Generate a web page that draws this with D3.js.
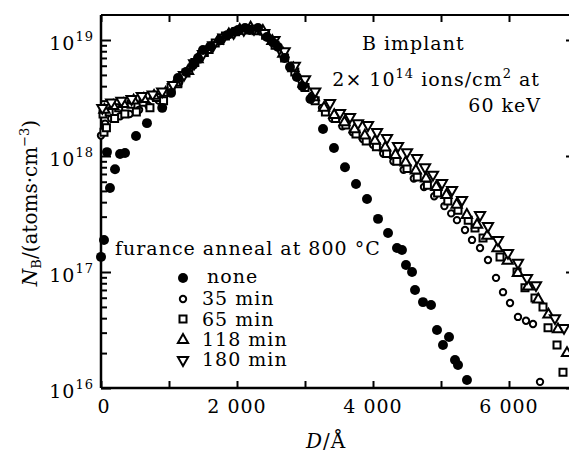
<!DOCTYPE html>
<html>
<head>
<meta charset="utf-8">
<script src="https://cdn.jsdelivr.net/npm/d3@7"></script>
<style>
  body { margin: 0; background: #fff; }
  text { font-family: "DejaVu Serif", "Liberation Serif", serif; fill: #000; letter-spacing: 1px; }
</style>
</head>
<body>
<div id="chart"></div>
<script>
// depth D (Angstrom) , concentration N (atoms/cm^3)
const noneData = [
  [0, 1.35e17], [44, 1.89e17], [88, 1.08e18], [132, 5.3e17], [206, 7.7e17], [280, 1.04e18],
  [353, 1.06e18], [515, 1.49e18], [676, 1.92e18], [900, 2.6e18], [1030, 3.5e18], [1132, 4.7e18],
  [1250, 5.3e18], [1353, 6.1e18], [1426, 7.0e18], [1500, 8.2e18], [1618, 8.8e18], [1750, 1.0e19],
  [1853, 1.1e19], [1960, 1.18e19], [2015, 1.22e19], [2118, 1.27e19], [2191, 1.22e19], [2309, 1.27e19],
  [2441, 1.06e19], [2529, 9.5e18], [2603, 8.7e18], [2700, 7.0e18], [2779, 5.85e18], [2880, 4.8e18],
  [2960, 4.0e18], [3080, 3.1e18], [3265, 1.71e18], [3426, 1.17e18], [3588, 8.0e17], [3750, 5.74e17],
  [3912, 4.26e17], [4074, 2.87e17], [4221, 2.17e17], [4353, 1.61e17], [4426, 1.55e17], [4485, 1.15e17],
  [4574, 1.0e17], [4618, 7.0e16], [4735, 5.5e16], [4853, 5.2e16], [4941, 3.16e16], [5029, 2.35e16],
  [5118, 2.75e16], [5206, 1.74e16], [5250, 1.58e16], [5382, 1.17e16]
];

const min35Data = [
  [0, 1.5e18], [60, 1.9e18], [150, 2.1e18], [280, 2.2e18], [420, 2.3e18], [560, 2.5e18],
  [700, 2.7e18], [850, 3.0e18], [1000, 3.5e18], [1150, 4.3e18], [1300, 5.5e18], [1450, 6.8e18],
  [1600, 8.4e18], [1750, 9.8e18], [1900, 1.12e19], [2050, 1.2e19], [2200, 1.24e19], [2350, 1.18e19],
  [2500, 1.0e19], [2650, 8.0e18], [2800, 6.0e18], [2950, 4.4e18], [3100, 3.3e18], [3250, 2.6e18],
  [3400, 2.1e18], [3550, 1.8e18], [3700, 1.6e18], [3850, 1.4e18], [4000, 1.25e18], [4150, 1.05e18],
  [4300, 9.0e17], [4450, 7.6e17], [4600, 6.4e17], [4750, 5.4e17], [4900, 4.5e17], [5050, 3.7e17],
  [5150, 3.2e17], [5235, 2.8e17], [5353, 2.3e17], [5456, 1.89e17], [5574, 1.61e17], [5691, 1.27e17],
  [5809, 8.9e16], [5912, 6.7e16], [6015, 5.4e16], [6132, 4.1e16], [6250, 3.8e16], [6353, 3.56e16],
  [6456, 1.13e16]
];

const min65Data = [
  [30, 2.3e18], [44, 1.6e18], [80, 1.75e18], [120, 2.4e18], [200, 2.1e18], [260, 2.6e18],
  [350, 2.3e18], [440, 2.8e18], [520, 2.4e18], [620, 2.9e18], [720, 2.6e18], [820, 3.2e18],
  [920, 3.0e18], [1030, 3.9e18], [1130, 4.2e18], [1250, 5.2e18], [1380, 6.4e18], [1520, 7.8e18],
  [1680, 9.4e18], [1830, 1.08e19], [1980, 1.18e19], [2130, 1.22e19], [2280, 1.2e19], [2420, 1.1e19],
  [2560, 9.0e18], [2700, 7.0e18], [2850, 5.3e18], [3000, 3.9e18], [3150, 3.0e18], [3300, 2.4e18],
  [3450, 2.1e18], [3600, 1.85e18], [3750, 1.55e18], [3900, 1.35e18], [4050, 1.2e18], [4200, 1.05e18],
  [4350, 9.0e17], [4500, 7.8e17], [4650, 6.6e17], [4800, 5.6e17], [4950, 4.8e17], [5100, 4.1e17],
  [5250, 3.4e17], [5400, 2.8e17], [5500, 2.4e17], [5618, 1.96e17], [5868, 1.35e17], [6118, 1.0e17],
  [6235, 7.3e16], [6382, 5.97e16], [6500, 5.0e16], [6574, 3.3e16], [6706, 2.35e16], [6794, 1.37e16]
];

const min118Data = [
  [50, 2.5e18], [180, 2.7e18], [330, 2.8e18], [480, 3.0e18], [630, 3.1e18], [780, 3.3e18],
  [950, 3.5e18], [1100, 4.3e18], [1280, 5.4e18], [1420, 6.8e18], [1560, 8.2e18], [1720, 9.8e18],
  [1880, 1.12e19], [2040, 1.22e19], [2200, 1.28e19], [2380, 1.2e19], [2520, 9.8e18], [2680, 7.6e18],
  [2830, 5.7e18], [2980, 4.2e18], [3130, 3.2e18], [3280, 2.6e18], [3430, 2.25e18], [3580, 1.95e18],
  [3730, 1.7e18], [3880, 1.5e18], [4030, 1.35e18], [4180, 1.18e18], [4330, 1.02e18], [4480, 8.8e17],
  [4630, 7.5e17], [4780, 6.4e17], [4930, 5.4e17], [5080, 4.6e17], [5230, 3.8e17], [5380, 3.1e17],
  [5530, 2.55e17], [5680, 2.05e17], [5830, 1.6e17], [5980, 1.25e17], [6130, 9.8e16], [6280, 7.5e16],
  [6430, 5.8e16], [6580, 4.3e16], [6720, 3.2e16], [6853, 2.0e16]
];

const min180Data = [
  [20, 2.6e18], [150, 2.9e18], [300, 3.0e18], [450, 3.1e18], [600, 3.3e18], [760, 3.4e18],
  [900, 3.6e18], [1060, 4.1e18], [1220, 5.0e18], [1370, 6.3e18], [1500, 7.6e18], [1650, 9.0e18],
  [1800, 1.05e19], [1950, 1.15e19], [2100, 1.22e19], [2250, 1.25e19], [2400, 1.15e19], [2550, 1.0e19],
  [2700, 8.0e18], [2850, 6.0e18], [3000, 4.6e18], [3150, 3.6e18], [3368, 2.86e18], [3515, 2.35e18],
  [3662, 2.17e18], [3779, 1.92e18], [3926, 1.85e18], [4059, 1.61e18], [4206, 1.43e18], [4368, 1.22e18],
  [4500, 1.08e18], [4647, 9.6e17], [4765, 8.0e17], [4882, 6.9e17], [5015, 5.85e17], [5162, 5.1e17],
  [5309, 4.18e17], [5574, 3.1e17], [5691, 2.49e17], [5838, 1.89e17], [5985, 1.46e17], [6132, 1.2e17],
  [6265, 8.9e16], [6397, 7.7e16], [6676, 4.0e16], [6809, 3.3e16]
];

const seriesLabels = ["none", "35 min", "65 min", "118 min", "180 min"];
const xTicks = [0, 2000, 4000, 6000];
const xTickLabels = ["0", "2 000", "4 000", "6 000"];
const xMinorTicks = [1000, 3000, 5000];
const yDecades = [1e16, 1e17, 1e18, 1e19];
const yExponents = ["16", "17", "18", "19"];

const width = 569;
const height = 455;

const svg = d3.select("#chart")
  .append("svg")
  .attr("width", width)
  .attr("height", height);

const mLeft = 101, mRight = 577, mTop = 15, mBottom = 388;

const x = d3.scaleLinear().domain([0, 7000]).range([mLeft, mRight]);
const y = d3.scaleLog().domain([1e16, Math.pow(10, 19.2155)]).range([mBottom, mTop]);

// minor log ticks 2..9 in each decade
const yMinor = [];
yDecades.slice(0, 3).forEach(d => {
  for (let m = 2; m <= 9; m++) yMinor.push(m * d);
});

// frame
svg.append("line").attr("x1", mLeft).attr("x2", mLeft).attr("y1", mTop).attr("y2", mBottom)
  .attr("stroke", "black").attr("stroke-width", 2.5);
svg.append("line").attr("x1", mLeft).attr("x2", mRight).attr("y1", mBottom).attr("y2", mBottom)
  .attr("stroke", "black").attr("stroke-width", 2.5);
svg.append("line").attr("x1", mLeft).attr("x2", mRight).attr("y1", mTop).attr("y2", mTop)
  .attr("stroke", "black").attr("stroke-width", 2);
svg.append("line").attr("x1", mRight).attr("x2", mRight).attr("y1", mTop).attr("y2", mBottom)
  .attr("stroke", "black").attr("stroke-width", 2);

function tickAxis(axis, tx, ty) {
  const g = svg.append("g").attr("transform", `translate(${tx},${ty})`).call(axis);
  g.select(".domain").remove();
  g.selectAll("line").attr("stroke", "black").attr("stroke-width", 2);
  g.selectAll("text").remove();
  return g;
}

// inward ticks on all four sides
tickAxis(d3.axisBottom(x).tickValues(xTicks.concat(xMinorTicks)).tickSize(-7), 0, mBottom);
tickAxis(d3.axisTop(x).tickValues(xTicks.concat(xMinorTicks)).tickSize(-7), 0, mTop);
tickAxis(d3.axisLeft(y).tickValues(yDecades).tickSize(-10), mLeft, 0);
tickAxis(d3.axisLeft(y).tickValues(yMinor).tickSize(-6), mLeft, 0);
tickAxis(d3.axisRight(y).tickValues(yDecades).tickSize(-11), mRight, 0);
tickAxis(d3.axisRight(y).tickValues(yMinor).tickSize(-7), mRight, 0);

// y tick labels 10^n
yDecades.forEach((d, i) => {
  const t = svg.append("text")
    .attr("x", 94)
    .attr("y", y(d) + 10)
    .attr("text-anchor", "end")
    .style("font-size", "19px");
  t.append("tspan").text("10");
  t.append("tspan").attr("dy", -9).style("font-size", "13px").text(yExponents[i]);
});

// x tick labels
svg.selectAll(".xlab")
  .data(xTicks)
  .enter()
  .append("text")
  .attr("x", (d, i) => i === 0 ? x(d) + 3 : x(d))
  .attr("y", 413)
  .attr("text-anchor", "middle")
  .style("font-size", "19px")
  .text((d, i) => xTickLabels[i]);

// axis titles
const xt = svg.append("text")
  .attr("x", 326)
  .attr("y", 448)
  .attr("text-anchor", "middle")
  .style("font-size", "20px");
xt.append("tspan").style("font-style", "italic").text("D");
xt.append("tspan").text("/Å");

const yt = svg.append("text")
  .attr("transform", "translate(37,203) rotate(-90)")
  .attr("text-anchor", "middle")
  .style("font-size", "20px")
  .style("letter-spacing", "0px");
yt.append("tspan").style("font-style", "italic").text("N");
yt.append("tspan").attr("dy", 4).style("font-size", "13px").text("B");
yt.append("tspan").attr("dy", -4).text("/(atoms·cm");
yt.append("tspan").attr("dy", -8).style("font-size", "13px").text("−3");
yt.append("tspan").attr("dy", 8).text(")");

// marker shapes
const symFilled = d3.symbol().type(d3.symbolCircle).size(78);
const symCircle = d3.symbol().type(d3.symbolCircle).size(32);
const symSquare = d3.symbol().type(d3.symbolSquare).size(49);
const symTri = d3.symbol().type(d3.symbolTriangle).size(45);

const series = [
  { data: min35Data, path: symCircle(), rot: 0, fill: "white" },
  { data: min65Data, path: symSquare(), rot: 0, fill: "white" },
  { data: min118Data, path: symTri(), rot: 0, fill: "white" },
  { data: min180Data, path: symTri(), rot: 180, fill: "white" },
  { data: noneData, path: symFilled(), rot: 0, fill: "black" }
];
const legendOrder = [4, 0, 1, 2, 3];

const plot = svg.append("g");
series.forEach(s => {
  plot.selectAll(null)
    .data(s.data)
    .enter()
    .append("path")
    .attr("d", s.path)
    .attr("transform", d => `translate(${x(d[0])},${y(d[1])}) rotate(${s.rot})`)
    .attr("fill", s.fill)
    .attr("stroke", "black")
    .attr("stroke-width", s.fill === "black" ? 0 : 2);
});

// annotation
svg.append("text").attr("x", 362).attr("y", 50).style("font-size", "19px").text("B implant");
const ann = svg.append("text").attr("x", 540).attr("y", 86).attr("text-anchor", "end").style("font-size", "19px");
ann.append("tspan").text("2× 10");
ann.append("tspan").attr("dy", -8).style("font-size", "13px").text("14");
ann.append("tspan").attr("dy", 8).text(" ions/cm");
ann.append("tspan").attr("dy", -8).style("font-size", "13px").text("2");
ann.append("tspan").attr("dy", 8).text(" at");
svg.append("text").attr("x", 541).attr("y", 112).attr("text-anchor", "end").style("font-size", "19px").text("60 keV");

// legend
svg.append("text").attr("x", 115).attr("y", 255).style("font-size", "19px").text("furance anneal at 800 °C");
const legY = [278, 299, 319, 340, 360];
const legBase = [283, 305, 326, 346, 366];
legendOrder.forEach((si, i) => {
  const s = series[si];
  svg.append("path")
    .attr("d", s.path)
    .attr("transform", `translate(183,${legY[i]}) rotate(${s.rot})`)
    .attr("fill", s.fill)
    .attr("stroke", "black")
    .attr("stroke-width", s.fill === "black" ? 0 : 2);
  svg.append("text")
    .attr("x", i === 0 ? 207 : 202)
    .attr("y", legBase[i])
    .style("font-size", "19px")
    .text(seriesLabels[i]);
});
</script>
</body>
</html>
